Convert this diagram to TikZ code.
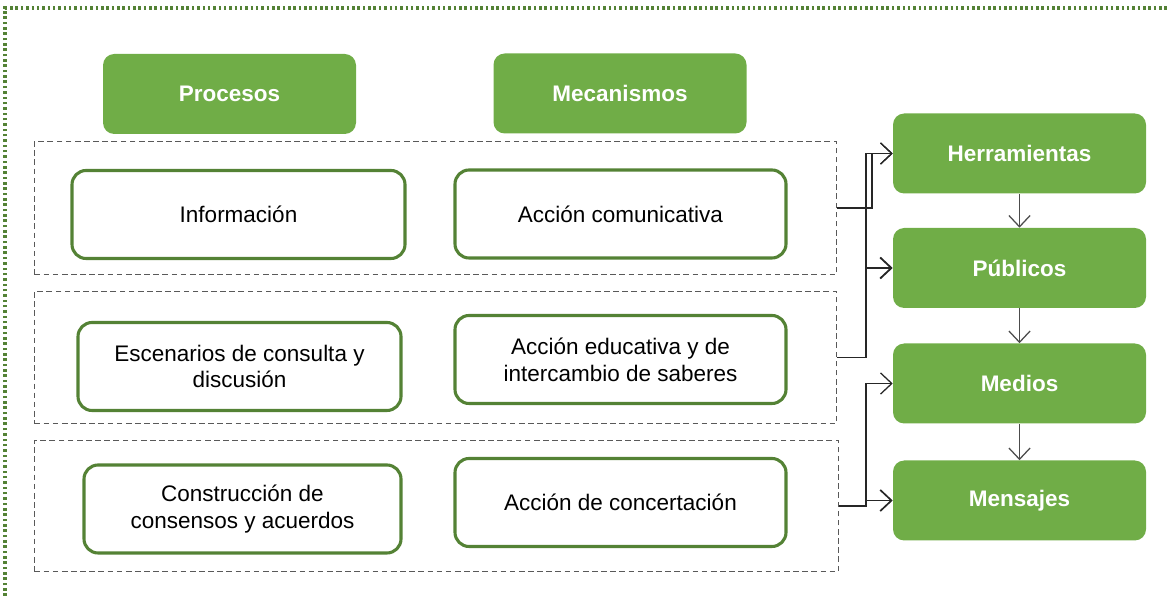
\documentclass[tikz,border=0pt]{standalone}
\usepackage{fontspec}
\setmainfont{Liberation Sans}
\usetikzlibrary{arrows.meta}
\definecolor{leaf}{RGB}{112,173,71}
\definecolor{leafdark}{RGB}{84,130,53}
\begin{document}
\begin{tikzpicture}[x=0.025cm, y=-0.025cm,
      head/.style={fill=leaf, rounded corners=8pt, text=white, font=\fontsize{16}{18}\selectfont\bfseries, minimum width=253*0.025cm, minimum height=80*0.025cm},
      item/.style={draw=leafdark, line width=2.2pt, rounded corners=10pt, align=center, font=\fontsize{16}{19}\selectfont, minimum height=88*0.025cm},
      group/.style={draw=gray!70!black, dash pattern=on 4pt off 2.5pt, line width=0.7pt, anchor=north west, inner sep=0pt},
      arr/.style={-{Straight Barb[length=8pt,width=15pt]}, line width=0.9pt, draw=black!85}
    ]
    \useasboundingbox (0,0) rectangle (1167,596);
    % outer frame
    \draw[leafdark, line width=2.6pt, dash pattern=on 1.8pt off 2pt] (5,596) -- (5,8) -- (1167,8);

    % headers
    \node[head] (proc) at (229.5,94) {Procesos};
    \node[head] (meca) at (620,93.5) {Mecanismos};

    % groups
    \node[group, minimum width=802*0.025cm, minimum height=133*0.025cm] (g1) at (34,141) {};
    \node[group, minimum width=802*0.025cm, minimum height=132*0.025cm] (g2) at (34,291) {};
    \node[group, minimum width=804*0.025cm, minimum height=131*0.025cm] (g3) at (34,440) {};

    % processes and mechanisms
    \node[item, minimum width=333*0.025cm] (info) at (238.5,214.5) {Información};
    \node[item, minimum width=331*0.025cm] (acom) at (620.5,214) {Acción comunicativa};
    \node[item, minimum width=323*0.025cm] (esce) at (239.5,366.5) {Escenarios de consulta y\\discusión};
    \node[item, minimum width=331*0.025cm] (aedu) at (620.5,359.5) {Acción educativa y de\\intercambio de saberes};
    \node[item, minimum width=317*0.025cm] (cons) at (242.5,509) {Construcción de\\consensos y acuerdos};
    \node[item, minimum width=331*0.025cm] (acon) at (620.5,502.5) {Acción de concertación};

    % right column
    \node[head] (herr) at (1019.5,153.5) {Herramientas};
    \node[head] (publ) at (1019.5,268) {Públicos};
    \node[head] (medi) at (1019.5,383.5) {Medios};
    \node[head] (mens) at (1019.5,500.5) {Mensajes};

    \draw[arr, draw=black!70] (herr) -- (publ);
    \draw[arr, draw=black!70] (publ) -- (medi);
    \draw[arr, draw=black!70] (medi) -- (mens);

    % connectors
    \draw[arr] (g1.east) -- ++(35,0) |- (herr.west);
    \draw[arr] (g2.east) -- ++(29,0) |- (herr.west);
    \draw[arr, line width=1.3pt] (g2.east) -- ++(29,0) |- (publ.west);
    \draw[arr] (g3.east) -- ++(27,0) |- (medi.west);
    \draw[arr, line width=1.2pt] (g3.east) -- ++(27,0) |- (mens.west);
  \end{tikzpicture}
\end{document}
